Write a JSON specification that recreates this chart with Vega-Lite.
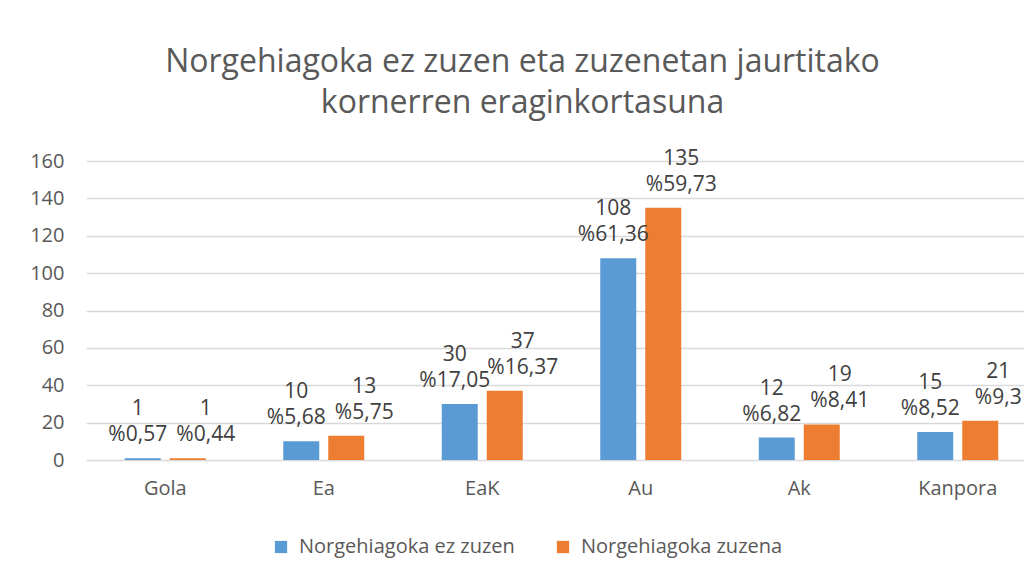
{
  "$schema": "https://vega.github.io/schema/vega-lite/v6.json",
  "width": 951,
  "height": 299,
  "autosize": {"type": "none"},
  "padding": {"left": 86, "top": 161, "right": -13, "bottom": 116},
  "background": "white",
  "config": {"font": "Open Sans", "view": {"stroke": null}},
  "title": {
    "text": ["Norgehiagoka ez zuzen eta zuzenetan jaurtitako", "kornerren eraginkortasuna"],
    "font": "Open Sans",
    "fontSize": 32,
    "fontWeight": "normal",
    "color": "#595959",
    "anchor": "middle",
    "dx": -39,
    "offset": 28,
    "lineHeight": 41
  },
  "data": {
    "values": [
      {"cat": "Gola", "series": "Norgehiagoka ez zuzen", "value": 1, "pct": "%0,57"},
      {"cat": "Gola", "series": "Norgehiagoka zuzena", "value": 1, "pct": "%0,44"},
      {"cat": "Ea", "series": "Norgehiagoka ez zuzen", "value": 10, "pct": "%5,68"},
      {"cat": "Ea", "series": "Norgehiagoka zuzena", "value": 13, "pct": "%5,75"},
      {"cat": "EaK", "series": "Norgehiagoka ez zuzen", "value": 30, "pct": "%17,05"},
      {"cat": "EaK", "series": "Norgehiagoka zuzena", "value": 37, "pct": "%16,37"},
      {"cat": "Au", "series": "Norgehiagoka ez zuzen", "value": 108, "pct": "%61,36"},
      {"cat": "Au", "series": "Norgehiagoka zuzena", "value": 135, "pct": "%59,73"},
      {"cat": "Ak", "series": "Norgehiagoka ez zuzen", "value": 12, "pct": "%6,82"},
      {"cat": "Ak", "series": "Norgehiagoka zuzena", "value": 19, "pct": "%8,41"},
      {"cat": "Kanpora", "series": "Norgehiagoka ez zuzen", "value": 15, "pct": "%8,52"},
      {"cat": "Kanpora", "series": "Norgehiagoka zuzena", "value": 21, "pct": "%9,3"}
    ]
  },
  "encoding": {
    "x": {
      "field": "cat",
      "type": "nominal",
      "sort": ["Gola", "Ea", "EaK", "Au", "Ak", "Kanpora"],
      "scale": {"paddingInner": 0, "paddingOuter": 0},
      "axis": {
        "title": null,
        "labelAngle": 0,
        "ticks": false,
        "domain": false,
        "labelFontSize": 20,
        "labelColor": "#595959",
        "labelPadding": 18
      }
    },
    "xOffset": {
      "field": "series",
      "type": "nominal",
      "scale": {"paddingInner": 0.2, "paddingOuter": 0.861}
    },
    "y": {
      "field": "value",
      "type": "quantitative",
      "scale": {"domain": [0, 160], "nice": false},
      "axis": {
        "title": null,
        "values": [0, 20, 40, 60, 80, 100, 120, 140, 160],
        "ticks": false,
        "domain": false,
        "grid": true,
        "gridColor": "#d9d9d9",
        "gridWidth": 1.5,
        "labelFontSize": 20,
        "labelColor": "#595959",
        "labelPadding": 22
      }
    }
  },
  "layer": [
    {
      "mark": {"type": "bar"},
      "encoding": {
        "color": {
          "field": "series",
          "type": "nominal",
          "scale": {"domain": ["Norgehiagoka ez zuzen", "Norgehiagoka zuzena"], "range": ["#5B9BD5", "#ED7D31"]},
          "legend": {
            "title": null,
            "orient": "none",
            "legendX": 185,
            "legendY": 376,
            "direction": "horizontal",
            "symbolType": "square",
            "symbolSize": 150,
            "symbolStrokeWidth": 0,
            "labelFontSize": 20,
            "labelColor": "#595959",
            "labelLimit": 0,
            "labelOffset": 8,
            "columnPadding": 38
          }
        }
      }
    },
    {
      "transform": [{"filter": "datum.series == 'Norgehiagoka ez zuzen'"}],
      "mark": {"type": "text", "fontSize": 21, "color": "#404040", "baseline": "middle", "dy": -49, "dx": -5},
      "encoding": {"text": {"field": "value", "type": "quantitative"}}
    },
    {
      "transform": [{"filter": "datum.series == 'Norgehiagoka ez zuzen'"}],
      "mark": {"type": "text", "fontSize": 21, "color": "#404040", "baseline": "middle", "dy": -23, "dx": -5},
      "encoding": {"text": {"field": "pct", "type": "nominal"}}
    },
    {
      "transform": [{"filter": "datum.series == 'Norgehiagoka zuzena'"}],
      "mark": {"type": "text", "fontSize": 21, "color": "#404040", "baseline": "middle", "dy": -49, "dx": 18},
      "encoding": {"text": {"field": "value", "type": "quantitative"}}
    },
    {
      "transform": [{"filter": "datum.series == 'Norgehiagoka zuzena'"}],
      "mark": {"type": "text", "fontSize": 21, "color": "#404040", "baseline": "middle", "dy": -23, "dx": 18},
      "encoding": {"text": {"field": "pct", "type": "nominal"}}
    }
  ]
}
